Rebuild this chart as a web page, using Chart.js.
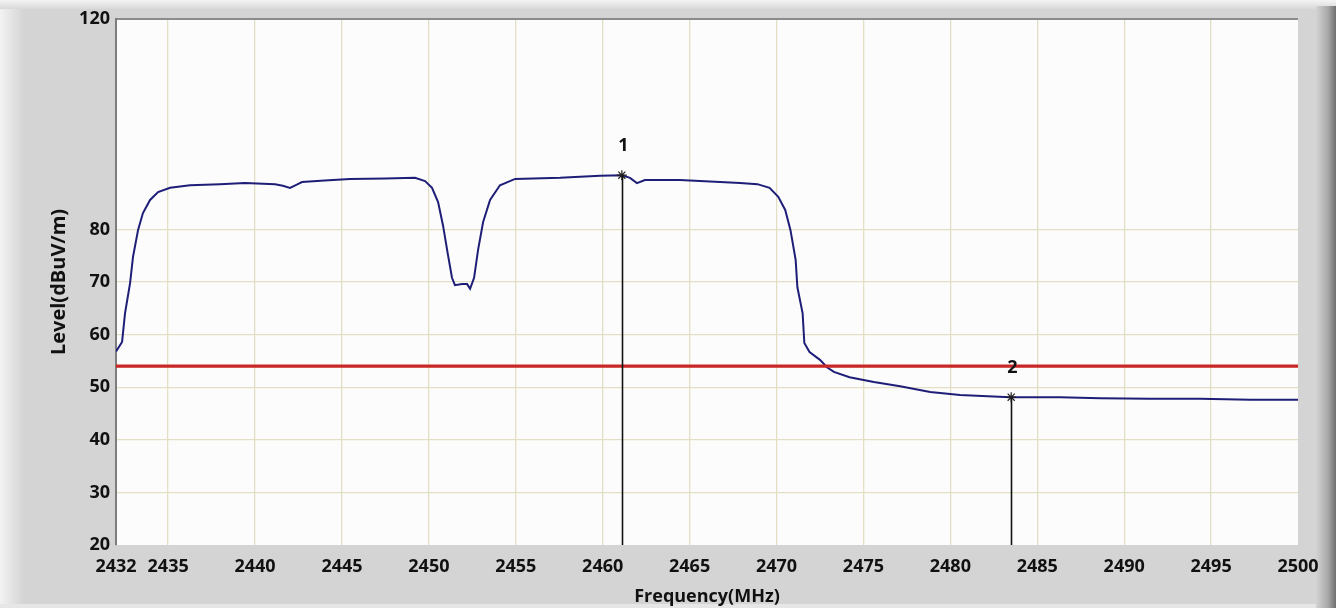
<!DOCTYPE html>
<html>
<head>
<meta charset="utf-8">
<script src="https://cdn.jsdelivr.net/npm/chart.js@4"></script>
<style>
  html, body { margin: 0; padding: 0; background: #d4d4d4; }
  #wrap { width: 1336px; height: 608px; }
</style>
</head>
<body>
<div id="wrap"><canvas id="c" width="1336" height="608"></canvas></div>
<script>
// ---- Data ----
const traceFreq = [2432.0, 2432.06, 2432.35, 2432.52, 2432.81, 2432.98, 2433.27, 2433.55, 2433.96, 2434.42, 2435.11, 2436.26, 2437.98, 2439.42, 2441.15, 2441.6, 2442.01, 2442.4, 2442.7, 2444.0, 2445.46, 2447.5, 2449.2, 2449.78, 2450.18, 2450.53, 2450.81, 2451.10, 2451.33, 2451.50, 2451.91, 2452.20, 2452.37, 2452.60, 2452.83, 2453.12, 2453.52, 2454.09, 2454.96, 2457.55, 2459.85, 2461.11, 2461.57, 2461.97, 2462.43, 2464.44, 2466.75, 2467.9, 2468.9, 2469.6, 2470.1, 2470.5, 2470.8, 2471.1, 2471.2, 2471.5, 2471.6, 2471.9, 2472.5, 2472.9, 2473.3, 2474.2, 2475.6, 2477.11, 2478.84, 2480.56, 2483.44, 2486.32, 2488.62, 2491.49, 2494.37, 2497.25, 2500.0];
const traceLevel = [56.8, 57.1, 58.6, 64.1, 69.8, 74.8, 79.9, 83.1, 85.6, 87.1, 87.9, 88.4, 88.6, 88.8, 88.6, 88.3, 87.9, 88.5, 89.0, 89.3, 89.6, 89.7, 89.8, 89.2, 87.9, 85.2, 80.8, 75.1, 70.8, 69.4, 69.6, 69.6, 68.7, 70.8, 76.1, 81.4, 85.6, 88.4, 89.6, 89.8, 90.2, 90.3, 89.8, 88.8, 89.4, 89.4, 89.0, 88.8, 88.6, 87.9, 86.2, 83.7, 79.9, 74.2, 69.0, 64.1, 58.4, 56.7, 55.2, 53.8, 52.9, 51.9, 51.0, 50.2, 49.1, 48.5, 48.1, 48.1, 47.9, 47.8, 47.8, 47.6, 47.6];
const limitFreq = [2432, 2500];
const limitLevel = [54, 54];
const markerNames = ["1", "2"];
const markerFreq = [2461.1, 2483.5];
const markerLevel = [90.3, 48.1];
const xTickValues = [2432, 2435, 2440, 2445, 2450, 2455, 2460, 2465, 2470, 2475, 2480, 2485, 2490, 2495, 2500];
const yTickValues = [20, 30, 40, 50, 60, 70, 80, 120];
const xTitle = "Frequency(MHz)";
const yTitle = "Level(dBuV/m)";

const FONT = "'Open Sans', 'Liberation Sans', sans-serif";

const bgPlugin = {
  id: 'bg',
  beforeDraw(chart) {
    const ctx = chart.ctx, W = chart.width, H = chart.height;
    ctx.save();
    ctx.fillStyle = '#d4d4d4';
    ctx.fillRect(0, 0, W, H);
    let g = ctx.createLinearGradient(0, 0, 24, 0);
    g.addColorStop(0, '#f2f2f2');
    g.addColorStop(1, '#d4d4d4');
    ctx.fillStyle = g;
    ctx.fillRect(0, 0, 24, H);
    g = ctx.createLinearGradient(0, 0, 0, 9);
    g.addColorStop(0, '#f4f4f4');
    g.addColorStop(1, '#d8d8d8');
    ctx.fillStyle = g;
    ctx.fillRect(0, 0, W, 9);
    g = ctx.createLinearGradient(W - 20, 0, W, 0);
    g.addColorStop(0, '#d4d4d4');
    g.addColorStop(0.6, '#a8a8a8');
    g.addColorStop(1, '#6e6e6e');
    ctx.fillStyle = g;
    ctx.fillRect(W - 20, 6, 20, H - 6);
    ctx.fillStyle = '#e6e6e6';
    ctx.fillRect(0, H - 4, W - 20, 4);
    const a = chart.chartArea;
    ctx.fillStyle = '#fcfcfc';
    ctx.fillRect(a.left, a.top, a.right - a.left, a.bottom - a.top);
    ctx.restore();
  }
};

const markerPlugin = {
  id: 'markers',
  afterDatasetsDraw(chart) {
    const ctx = chart.ctx, xs = chart.scales.x, ys = chart.scales.y;
    ctx.save();
    markerFreq.forEach((f, i) => {
      const px = Math.round(xs.getPixelForValue(f)) + 0.5;
      const py = ys.getPixelForValue(markerLevel[i]);
      const pb = ys.getPixelForValue(ys.min);
      ctx.strokeStyle = '#111111';
      ctx.lineWidth = 1.6;
      ctx.beginPath();
      ctx.moveTo(px, py);
      ctx.lineTo(px, pb);
      ctx.stroke();
      ctx.fillStyle = '#111111';
      ctx.font = "bold 18px " + FONT;
      ctx.textAlign = 'center';
      ctx.textBaseline = 'middle';
      ctx.fillText(markerNames[i], px + 1, py - 29);
    });
    ctx.restore();
  }
};

const ctx = document.getElementById('c').getContext('2d');
new Chart(ctx, {
  type: 'scatter',
  data: {
    datasets: [
      {
        label: 'Trace',
        data: traceFreq.map((f, i) => ({ x: f, y: traceLevel[i] })),
        showLine: true,
        borderColor: '#1e1e78',
        borderWidth: 2,
        pointRadius: 0,
        tension: 0,
        order: 3
      },
      {
        label: 'Limit',
        data: limitFreq.map((f, i) => ({ x: f, y: limitLevel[i] })),
        showLine: true,
        borderColor: '#c92626',
        borderWidth: 3.2,
        pointRadius: 0,
        order: 2
      },
      {
        label: 'Markers',
        data: markerFreq.map((f, i) => ({ x: f, y: markerLevel[i] })),
        showLine: false,
        pointStyle: 'star',
        pointRadius: 5,
        borderColor: '#222222',
        borderWidth: 1.2,
        backgroundColor: '#222222',
        order: 1
      }
    ]
  },
  options: {
    responsive: false,
    animation: false,
    events: [],
    layout: { padding: { top: 19, right: 38, left: 0, bottom: 0 } },
    plugins: {
      legend: { display: false },
      tooltip: { enabled: false },
      title: { display: false }
    },
    scales: {
      x: {
        type: 'linear',
        min: 2432,
        max: 2500,
        afterBuildTicks: (s) => { s.ticks = xTickValues.map(v => ({ value: v })); },
        afterFit: (s) => { s.height = 63; },
        grid: {
          drawTicks: false,
          color: (c) => (c.tick && (c.tick.value === 2432 || c.tick.value === 2500)) ? 'rgba(0,0,0,0)' : '#e3dfc4',
          lineWidth: 1.3
        },
        border: { display: false },
        ticks: {
          padding: 11,
          maxRotation: 0,
          autoSkip: false,
          color: '#111111',
          font: { family: FONT, size: 18, weight: 'bold' },
          callback: (v) => String(v)
        },
        title: {
          display: true,
          text: xTitle,
          color: '#111111',
          font: { family: FONT, size: 18, weight: 'bold' },
          padding: { top: 0, bottom: 0 }
        }
      },
      y: {
        type: 'linear',
        min: 20,
        max: 120,
        afterBuildTicks: (s) => { s.ticks = yTickValues.map(v => ({ value: v })); },
        afterFit: (s) => { s.width = 116; },
        grid: {
          drawTicks: false,
          color: (c) => {
            if (!c.tick) return '#e3dfc4';
            if (c.tick.value === 120) return '#8c8c8c';
            if (c.tick.value === 20) return 'rgba(0,0,0,0)';
            return '#e3dfc4';
          },
          lineWidth: (c) => (c.tick && c.tick.value === 120) ? 2 : 1.3
        },
        border: { display: true, color: '#7d7d7d', width: 2 },
        ticks: {
          padding: 6,
          autoSkip: false,
          color: '#111111',
          font: { family: FONT, size: 18, weight: 'bold' },
          callback: (v) => String(v)
        },
        title: {
          display: true,
          text: yTitle,
          color: '#111111',
          font: { family: FONT, size: 20, weight: 'bold' },
          padding: { top: 47, bottom: 0 }
        }
      }
    }
  },
  plugins: [bgPlugin, markerPlugin]
});
</script>
</body>
</html>
